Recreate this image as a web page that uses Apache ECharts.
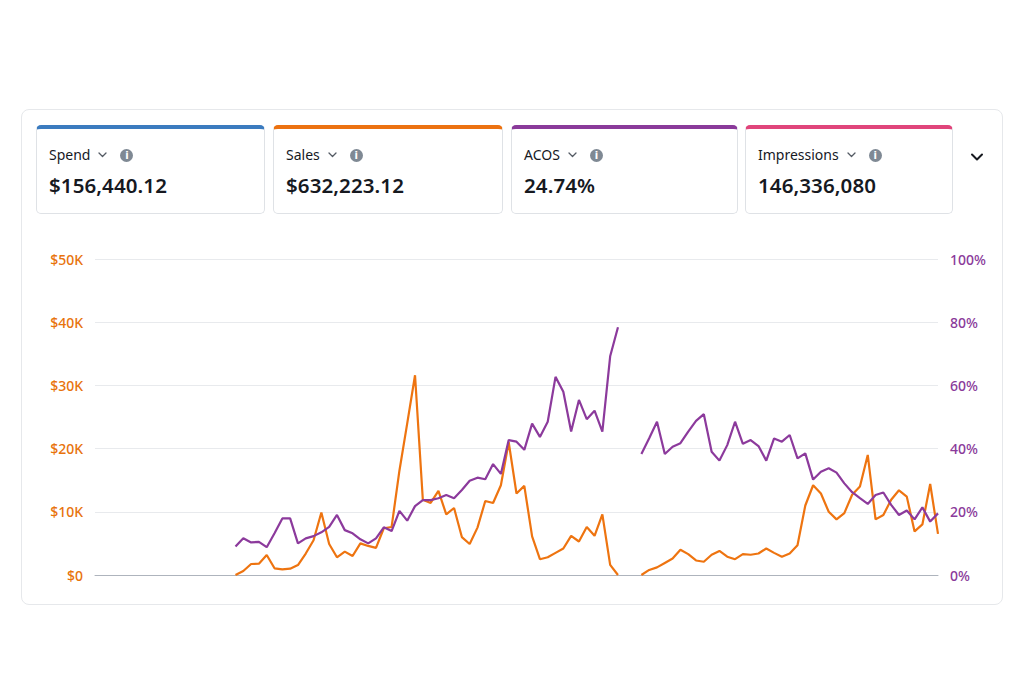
<!DOCTYPE html>
<html>
<head>
<meta charset="utf-8">
<script src="https://cdn.jsdelivr.net/npm/echarts/dist/echarts.min.js"></script>
<style>
  html, body { margin: 0; padding: 0; background: #ffffff; }
  body { width: 1024px; height: 683px; position: relative; overflow: hidden; font-family: "Noto Sans", "Open Sans", sans-serif; color: #16191f; }
  #frame { position: absolute; left: 21px; top: 109px; width: 980px; height: 494px; border: 1px solid #e6e8eb; border-radius: 8px; z-index: 0; }
  #chart { position: absolute; left: 0; top: 0; width: 1024px; height: 683px; z-index: 1; }
  .card { position: absolute; top: 125px; height: 84px; border: 1px solid #dfe2e6; border-top: 4px solid #000; border-radius: 5px; background: #fff; z-index: 2; box-sizing: content-box; }
  .lbl { position: absolute; left: 12px; top: 17px; height: 18px; display: flex; align-items: center; font-size: 14px; line-height: 18px; white-space: nowrap; }
  .lbl svg { margin-left: 8px; }
  .info { display: inline-block; width: 13px; height: 13px; border-radius: 50%; background: #7f8994; color: #fff; font-size: 10px; font-weight: 700; line-height: 13px; text-align: center; margin-left: 13px; font-family: "DejaVu Sans", sans-serif; }
  .val { position: absolute; left: 12px; top: 43px; font-size: 20.5px; line-height: 26px; font-weight: 600; white-space: nowrap; letter-spacing: 0.1px; }
  #more { position: absolute; left: 970px; top: 152px; z-index: 2; }
</style>
</head>
<body>
<div id="frame"></div>
<div id="chart"></div>
<div id="cards"></div>
<svg id="more" width="14" height="10" viewBox="0 0 14 10"><polyline points="2,2.5 7,7.5 12,2.5" fill="none" stroke="#16191f" stroke-width="2" stroke-linecap="round" stroke-linejoin="round"/></svg>
<script>
// ---- Summary metrics (cards) ----
var metricNames  = ["Spend", "Sales", "ACOS", "Impressions"];
var metricValues = ["$156,440.12", "$632,223.12", "24.74%", "146,336,080"];
var metricColors = ["#3b7bbf", "#ec7211", "#8a3a9a", "#e0457b"];

// ---- Axis ticks ----
var salesTicks = [0, 10000, 20000, 30000, 40000, 50000];
var acosTicks  = [0, 20, 40, 60, 80, 100];

// ---- Daily categories (no visible labels in the reference) ----
var categories = [];
for (var d = 1; d <= 109; d++) { categories.push("Day " + d); }

// ---- Series values ----
// Sales ($), 18 days without data, then data, a 2-day gap, then data
var salesValues = [
  null,null,null,null,null,null,null,null,null,null,null,null,null,null,null,null,null,null,
  0,630,1740,1790,3160,1060,900,1000,1580,3400,
  5500,9900,4900,2800,3700,3000,5000,4600,4300,7400,
  7600,16500,24000,31600,11900,11400,13300,9600,10600,6000,
  4900,7500,11700,11400,14200,21000,12900,14100,6100,2500,
  2800,3500,4200,6200,5300,7600,6200,9600,1600,0,
  null,null,
  0,800,1200,1900,2600,4000,3300,2300,2100,3200,
  3800,2900,2500,3300,3200,3400,4200,3500,2900,3400,
  4700,11000,14200,12900,10000,8800,9800,12700,14000,19000,
  8800,9500,11900,13400,12400,6900,8000,14400,6500
];
// ACOS (%)
var acosValues = [
  null,null,null,null,null,null,null,null,null,null,null,null,null,null,null,null,null,null,
  9.0,11.6,10.3,10.5,8.8,13.2,17.9,17.9,10.0,11.6,
  12.3,13.5,15.2,19.0,14.2,13.2,11.3,10.0,11.6,15.1,
  13.9,20.3,17.2,21.8,23.7,23.7,24.3,25.3,24.3,26.9,
  29.8,30.8,30.3,35.1,32.0,42.7,42.2,39.6,47.9,43.7,
  48.5,62.7,58.0,45.4,55.4,49.3,52.0,45.4,69.2,78.4,
  null,null,
  38.3,43.3,48.5,38.3,40.6,41.7,45.4,48.8,50.9,39.0,
  36.2,41.1,48.5,41.5,42.7,40.8,36.2,43.2,42.2,44.3,
  36.9,38.5,30.2,32.7,33.8,32.4,29.0,26.2,24.3,22.5,
  25.3,26.1,22.2,19.0,20.4,17.6,21.4,16.9,19.5
];

// ---- Build cards ----
var lefts = [36, 273, 511, 745];
var widths = [227, 228, 225, 206];
var cardsEl = document.getElementById("cards");
for (var i = 0; i < metricNames.length; i++) {
  var c = document.createElement("div");
  c.className = "card";
  c.style.left = lefts[i] + "px";
  c.style.width = widths[i] + "px";
  c.style.borderTopColor = metricColors[i];
  c.innerHTML =
    '<div class="lbl"><span>' + metricNames[i] + '</span>' +
    '<svg width="9" height="6" viewBox="0 0 9 6"><polyline points="1,1 4.5,4.5 8,1" fill="none" stroke="#545b64" stroke-width="1.3" stroke-linecap="round" stroke-linejoin="round"/></svg>' +
    '<span class="info">i</span></div>' +
    '<div class="val">' + metricValues[i] + '</div>';
  cardsEl.appendChild(c);
}

// ---- Chart ----
var chart = echarts.init(document.getElementById("chart"), null, { renderer: "svg", width: 1024, height: 683 });
var font = '"Noto Sans", "Open Sans", sans-serif';
chart.setOption({
  animation: false,
  backgroundColor: "transparent",
  grid: { left: 95, right: 86, top: 259, bottom: 108, containLabel: false },
  xAxis: {
    type: "category",
    data: categories,
    boundaryGap: false,
    axisLine: { show: true, lineStyle: { color: "#aeb4bd", width: 1 } },
    axisTick: { show: false },
    axisLabel: { show: false },
    splitLine: { show: false }
  },
  yAxis: [
    {
      type: "value",
      min: salesTicks[0],
      max: salesTicks[salesTicks.length - 1],
      interval: salesTicks[1] - salesTicks[0],
      axisLine: { show: false },
      axisTick: { show: false },
      splitLine: { show: true, lineStyle: { color: "#e8eaed", width: 1 } },
      axisLabel: {
        margin: 12,
        color: "#e8730c",
        fontSize: 14,
        fontWeight: 500,
        fontFamily: font,
        formatter: function (v) { return v === 0 ? "$0" : "$" + (v / 1000) + "K"; }
      }
    },
    {
      type: "value",
      position: "right",
      min: acosTicks[0],
      max: acosTicks[acosTicks.length - 1],
      interval: acosTicks[1] - acosTicks[0],
      axisLine: { show: false },
      axisTick: { show: false },
      splitLine: { show: false },
      axisLabel: {
        margin: 12,
        color: "#8a3a9a",
        fontSize: 14,
        fontWeight: 500,
        fontFamily: font,
        formatter: "{value}%"
      }
    }
  ],
  series: [
    {
      name: "Sales",
      type: "line",
      yAxisIndex: 0,
      data: salesValues,
      showSymbol: false,
      connectNulls: false,
      lineStyle: { color: "#ee7410", width: 2.2 },
      itemStyle: { color: "#ee7410" },
      z: 2
    },
    {
      name: "ACOS",
      type: "line",
      yAxisIndex: 1,
      data: acosValues,
      showSymbol: false,
      connectNulls: false,
      lineStyle: { color: "#8c3a9c", width: 2.2 },
      itemStyle: { color: "#8c3a9c" },
      z: 3
    }
  ]
});
</script>
</body>
</html>
